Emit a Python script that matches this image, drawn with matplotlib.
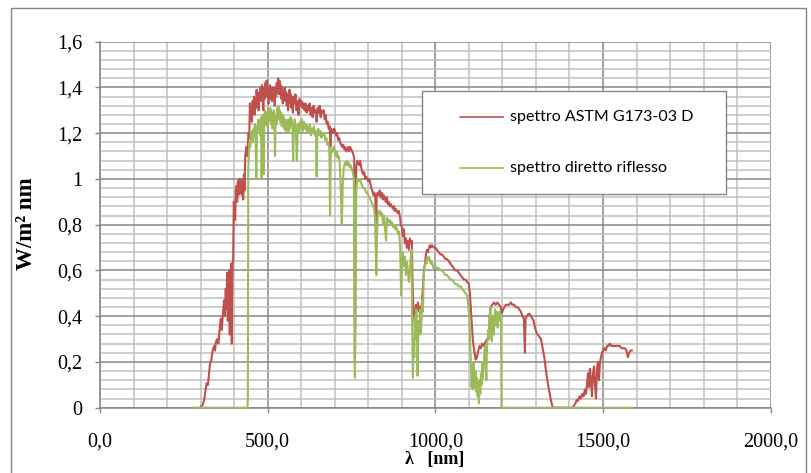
import matplotlib.pyplot as plt
import matplotlib as mat
import numpy as np

# spettro ASTM G173-03 D  (lambda in nm, W/m2 nm)
astm_nm = [298, 305, 310, 315, 318, 322, 325, 328, 332, 336, 340, 343, 346, 350, 353, 356,
           360, 363, 366, 370, 372, 375, 377, 379, 381, 383, 385, 387, 389, 391, 393, 395,
           397, 399, 401, 403, 405, 407, 409, 411, 413, 415, 417, 419, 421, 423, 425, 427,
           429, 431, 433, 435, 437, 439, 441, 443, 445, 447, 449, 451, 453, 455, 457, 459,
           461, 463, 465, 467, 469, 471, 473, 475, 477, 479, 481, 483, 485, 487, 489, 491,
           493, 495, 497, 499, 501, 503, 505, 507, 509, 511, 513, 515, 517, 519, 521, 523,
           525, 527, 529, 531, 533, 535, 537, 539, 541, 543, 545, 547, 549, 551, 553, 555,
           557, 559, 561, 563, 565, 567, 569, 571, 573, 575, 577, 580, 583, 586, 589, 592,
           595, 598, 601, 604, 607, 610, 613, 616, 619, 622, 625, 628, 631, 634, 637, 640,
           643, 646, 649, 652, 655, 658, 661, 664, 667, 670, 673, 676, 679, 682, 685, 687,
           689, 692, 695, 698, 701, 704, 707, 710, 713, 716, 719, 722, 725, 728, 731, 734,
           737, 740, 743, 746, 749, 752, 755, 758, 760, 762, 764, 767, 770, 773, 776, 779,
           782, 785, 788, 791, 794, 797, 800, 803, 806, 809, 812, 815, 818, 821, 823, 825,
           828, 831, 834, 837, 840, 843, 846, 849, 852, 855, 858, 861, 864, 867, 870, 873,
           876, 879, 882, 885, 888, 891, 894, 897, 900, 903, 906, 909, 912, 915, 918, 921,
           924, 927, 930, 932, 934, 936, 939, 942, 945, 948, 951, 954, 957, 960, 963, 966,
           969, 972, 975, 978, 981, 984, 987, 990, 995, 1000, 1005, 1010, 1015, 1020, 1025, 1030,
           1035, 1040, 1045, 1050, 1055, 1060, 1065, 1070, 1075, 1080, 1085, 1090, 1095, 1100, 1103, 1106,
           1109, 1112, 1116, 1120, 1124, 1128, 1132, 1136, 1140, 1145, 1150, 1155, 1160, 1162, 1165, 1170,
           1175, 1180, 1185, 1190, 1195, 1198, 1202, 1206, 1210, 1215, 1220, 1225, 1230, 1235, 1240, 1245,
           1250, 1255, 1260, 1264, 1267, 1269, 1273, 1277, 1281, 1285, 1289, 1293, 1297, 1301, 1305, 1310,
           1315, 1320, 1325, 1330, 1335, 1340, 1345, 1350, 1410, 1414, 1418, 1422, 1426, 1430, 1434, 1438,
           1442, 1446, 1449, 1452, 1455, 1458, 1461, 1464, 1467, 1470, 1473, 1476, 1479, 1482, 1485, 1488,
           1491, 1494, 1497, 1500, 1504, 1508, 1512, 1516, 1520, 1525, 1530, 1535, 1540, 1545, 1550, 1555,
           1560, 1565, 1570, 1574, 1578, 1582, 1586]
astm_val = [0.0, 0.01, 0.03, 0.08, 0.107, 0.10, 0.15, 0.19, 0.21, 0.25, 0.27, 0.25, 0.29, 0.30, 0.28, 0.33,
            0.39, 0.34, 0.40, 0.47, 0.40, 0.52, 0.43, 0.59, 0.38, 0.50, 0.60, 0.32, 0.55, 0.63, 0.28, 0.62,
            0.65, 0.90, 0.85, 0.82, 0.95, 0.97, 0.90, 0.99, 0.93, 1.00, 0.98, 0.94, 1.00, 0.93, 0.99, 0.91,
            1.02, 0.95, 1.10, 1.12, 1.14, 1.10, 1.16, 1.20, 1.18, 1.33, 1.29, 1.31, 1.25, 1.34, 1.30, 1.36,
            1.28, 1.35, 1.31, 1.39, 1.33, 1.37, 1.30, 1.38, 1.35, 1.40, 1.34, 1.41, 1.38, 1.30, 1.40, 1.35,
            1.42, 1.37, 1.43, 1.36, 1.40, 1.33, 1.38, 1.41, 1.35, 1.39, 1.34, 1.40, 1.36, 1.38, 1.32, 1.40,
            1.36, 1.42, 1.38, 1.44, 1.37, 1.43, 1.39, 1.41, 1.35, 1.40, 1.33, 1.38, 1.36, 1.40, 1.34, 1.38,
            1.32, 1.37, 1.30, 1.36, 1.39, 1.33, 1.37, 1.31, 1.35, 1.29, 1.36, 1.33, 1.37, 1.30, 1.34, 1.28,
            1.35, 1.32, 1.34, 1.31, 1.33, 1.30, 1.33, 1.29, 1.32, 1.30, 1.33, 1.28, 1.31, 1.27, 1.32, 1.29,
            1.30, 1.25, 1.31, 1.29, 1.32, 1.27, 1.30, 1.29, 1.30, 1.26, 1.28, 1.24, 1.25, 1.22, 1.23, 1.14,
            1.22, 1.21, 1.20, 1.22, 1.21, 1.19, 1.20, 1.17, 1.18, 1.16, 1.15, 1.14, 1.15, 1.13, 1.14, 1.12,
            1.13, 1.14, 1.12, 1.14, 1.13, 1.12, 1.11, 1.09, 0.20, 0.60, 1.05, 1.08, 1.07, 1.06, 1.08, 1.05,
            1.03, 1.02, 1.03, 1.00, 1.01, 1.00, 0.99, 1.00, 0.98, 0.96, 0.95, 0.93, 0.94, 0.92, 0.70, 0.93,
            0.94, 0.93, 0.95, 0.92, 0.94, 0.91, 0.93, 0.92, 0.90, 0.92, 0.89, 0.90, 0.88, 0.89, 0.88, 0.87,
            0.88, 0.86, 0.87, 0.86, 0.85, 0.86, 0.84, 0.80, 0.79, 0.75, 0.78, 0.72, 0.74, 0.70, 0.73, 0.69,
            0.74, 0.72, 0.73, 0.55, 0.44, 0.40, 0.37, 0.45, 0.43, 0.46, 0.42, 0.44, 0.43, 0.46, 0.53, 0.60,
            0.63, 0.67, 0.69, 0.68, 0.70, 0.71, 0.70, 0.71, 0.70, 0.70, 0.69, 0.68, 0.67, 0.67, 0.66, 0.65,
            0.65, 0.64, 0.63, 0.62, 0.61, 0.60, 0.60, 0.59, 0.58, 0.57, 0.56, 0.56, 0.55, 0.54, 0.50, 0.43,
            0.36, 0.29, 0.25, 0.21, 0.22, 0.25, 0.27, 0.26, 0.28, 0.27, 0.29, 0.30, 0.31, 0.40, 0.44, 0.45,
            0.46, 0.45, 0.46, 0.45, 0.44, 0.41, 0.43, 0.44, 0.45, 0.45, 0.45, 0.46, 0.45, 0.45, 0.44, 0.44,
            0.43, 0.42, 0.40, 0.39, 0.24, 0.39, 0.40, 0.41, 0.41, 0.40, 0.39, 0.38, 0.35, 0.33, 0.32, 0.31,
            0.30, 0.26, 0.22, 0.16, 0.11, 0.07, 0.03, 0.0, 0.0, 0.01, 0.02, 0.035, 0.03, 0.05, 0.04, 0.06,
            0.05, 0.08, 0.06, 0.10, 0.15, 0.09, 0.17, 0.12, 0.05, 0.15, 0.18, 0.10, 0.04, 0.17, 0.20, 0.12,
            0.20, 0.22, 0.24, 0.25, 0.26, 0.25, 0.27, 0.27, 0.28, 0.27, 0.27, 0.27, 0.27, 0.27, 0.27, 0.26,
            0.26, 0.26, 0.25, 0.22, 0.24, 0.25, 0.25]

# spettro diretto riflesso
rifl_nm = [281, 440, 441, 442, 444, 446, 448, 450, 452, 454, 456, 458, 460, 462, 464, 466,
           468, 470, 472, 474, 476, 478, 480, 482, 484, 486, 488, 490, 492, 494, 496, 498,
           500, 502, 504, 506, 508, 510, 512, 514, 516, 518, 520, 522, 524, 526, 528, 530,
           532, 534, 536, 538, 540, 542, 544, 546, 548, 550, 552, 554, 556, 558, 560, 562,
           564, 566, 568, 570, 572, 574, 576, 578, 581, 584, 587, 590, 593, 596, 599, 602,
           605, 608, 611, 614, 617, 620, 623, 626, 629, 632, 635, 638, 641, 644, 646, 648,
           651, 654, 657, 660, 663, 666, 669, 672, 675, 678, 681, 684, 686, 688, 691, 694,
           697, 700, 703, 706, 709, 712, 715, 718, 721, 724, 727, 730, 733, 736, 739, 742,
           745, 748, 751, 754, 757, 759, 760, 762, 764, 767, 770, 773, 776, 779, 782, 785,
           788, 791, 794, 797, 800, 803, 806, 809, 812, 815, 818, 821, 824, 826, 829, 832,
           835, 838, 841, 844, 847, 850, 853, 856, 859, 862, 865, 868, 871, 874, 877, 880,
           883, 886, 889, 892, 895, 898, 900, 903, 906, 909, 912, 915, 918, 921, 924, 927,
           929, 931, 933, 935, 937, 939, 941, 943, 945, 947, 949, 951, 953, 955, 957, 959,
           961, 963, 965, 968, 971, 974, 977, 980, 983, 986, 989, 992, 995, 1000, 1005, 1010,
           1015, 1020, 1025, 1030, 1035, 1040, 1045, 1050, 1055, 1060, 1065, 1070, 1075, 1080, 1085, 1090,
           1095, 1098, 1101, 1104, 1106, 1108, 1110, 1112, 1114, 1116, 1118, 1120, 1122, 1124, 1126, 1128,
           1130, 1132, 1134, 1136, 1138, 1140, 1142, 1144, 1146, 1148, 1150, 1152, 1154, 1156, 1158, 1160,
           1162, 1164, 1166, 1168, 1170, 1172, 1174, 1176, 1178, 1180, 1182, 1184, 1186, 1188, 1190, 1192,
           1194, 1196, 1197, 1586]
rifl_val = [0.0, 0.0, 0.05, 1.05, 1.12, 1.16, 1.14, 1.20, 1.18, 1.21, 1.16, 1.22, 1.19, 1.24, 1.20, 1.00,
            1.23, 1.21, 1.26, 1.22, 1.25, 1.19, 1.27, 1.00, 1.24, 1.28, 1.02, 1.26, 1.30, 1.24, 1.29, 1.23,
            1.28, 1.25, 1.30, 1.26, 1.31, 1.24, 1.29, 1.22, 1.27, 1.30, 1.25, 1.10, 1.28, 1.24, 1.31, 1.26,
            1.32, 1.27, 1.30, 1.25, 1.29, 1.23, 1.28, 1.24, 1.27, 1.22, 1.26, 1.21, 1.25, 1.23, 1.26, 1.20,
            1.25, 1.22, 1.27, 1.24, 1.26, 1.22, 1.08, 1.23, 1.26, 1.21, 1.08, 1.24, 1.20, 1.25, 1.22, 1.26,
            1.21, 1.25, 1.22, 1.24, 1.20, 1.23, 1.21, 1.24, 1.19, 1.22, 1.20, 1.23, 1.19, 1.21, 1.01, 1.20,
            1.22, 1.19, 1.21, 1.18, 1.20, 1.19, 1.20, 1.17, 1.18, 1.15, 1.16, 1.13, 0.84, 1.10, 1.13, 1.12,
            1.14, 1.12, 1.10, 1.12, 1.09, 1.10, 1.07, 0.95, 0.80, 0.98, 1.05, 1.07, 1.06, 1.08, 1.06, 1.07,
            1.05, 1.06, 1.04, 1.03, 1.00, 0.60, 0.13, 0.40, 0.95, 1.00, 1.00, 0.99, 1.00, 0.98, 0.97, 0.96,
            0.96, 0.95, 0.94, 0.94, 0.93, 0.92, 0.91, 0.90, 0.89, 0.88, 0.87, 0.80, 0.58, 0.75, 0.86, 0.85,
            0.86, 0.84, 0.85, 0.80, 0.84, 0.78, 0.73, 0.83, 0.82, 0.81, 0.82, 0.80, 0.81, 0.79, 0.80, 0.78,
            0.79, 0.78, 0.76, 0.77, 0.70, 0.49, 0.60, 0.68, 0.62, 0.66, 0.58, 0.64, 0.60, 0.55, 0.60, 0.66,
            0.69, 0.35, 0.13, 0.30, 0.22, 0.40, 0.30, 0.43, 0.35, 0.14, 0.33, 0.38, 0.32, 0.43, 0.33, 0.40,
            0.47, 0.42, 0.56, 0.62, 0.64, 0.63, 0.65, 0.66, 0.65, 0.63, 0.64, 0.62, 0.61, 0.62, 0.61, 0.61,
            0.60, 0.60, 0.59, 0.58, 0.58, 0.57, 0.56, 0.56, 0.55, 0.54, 0.54, 0.53, 0.53, 0.52, 0.51, 0.50,
            0.49, 0.45, 0.40, 0.27, 0.20, 0.09, 0.15, 0.08, 0.20, 0.12, 0.09, 0.16, 0.07, 0.13, 0.05, 0.10,
            0.02, 0.12, 0.06, 0.15, 0.10, 0.20, 0.13, 0.18, 0.24, 0.27, 0.22, 0.12, 0.26, 0.30, 0.34, 0.30,
            0.40, 0.44, 0.38, 0.29, 0.34, 0.40, 0.32, 0.38, 0.43, 0.36, 0.40, 0.42, 0.35, 0.41, 0.38, 0.42,
            0.40, 0.41, 0.0, 0.0]

x_ticks = [0, 500, 1000, 1500, 2000]
x_labels = ['0,0', '500,0', '1000,0', '1500,0', '2000,0']
y_ticks = [0, 0.2, 0.4, 0.6, 0.8, 1.0, 1.2, 1.4, 1.6]
y_labels = ['0', '0,2', '0,4', '0,6', '0,8', '1', '1,2', '1,4', '1,6']

c_red = '#C0504D'
c_green = '#9BBB59'
c_major = '#868686'
c_minor = '#C0C0C0'
serif = 'Liberation Serif'

W, H = 811, 473
fig = plt.figure(figsize=(W / 100, H / 100), dpi=100)
ax = fig.add_axes([100 / W, 1 - 407.7 / H, 670.7 / W, 366 / H])

ax.plot(astm_nm, astm_val, color=c_red, lw=1.5, zorder=3)
ax.plot(rifl_nm, rifl_val, color=c_green, lw=1.5, zorder=4)

ax.set_xlim(0, 2000)
ax.set_ylim(0, 1.6)
ax.set_xticks(x_ticks)
ax.set_xticklabels(x_labels, family=serif, fontsize=14.5)
ax.set_yticks(y_ticks)
ax.set_yticklabels(y_labels, family=serif, fontsize=14.5)
ax.set_xticks(np.arange(0, 2001, 100), minor=True)
ax.set_yticks(np.arange(0, 1.601, 0.04), minor=True)

# griglia principale e secondaria
ax.grid(which='minor', color=c_minor, lw=1.1, zorder=0)
ax.grid(which='major', color=c_major, lw=1.1, zorder=1)
ax.set_axisbelow(True)
ax.tick_params(which='minor', length=0)
ax.tick_params(which='major', direction='out', length=3.8, width=1.0, color=c_major)
ax.tick_params(axis='x', pad=14)
ax.tick_params(axis='y', pad=9)
for s in ['top', 'right']:
    ax.spines[s].set_visible(False)
for s in ['left', 'bottom']:
    ax.spines[s].set_color(c_major)
    ax.spines[s].set_linewidth(1.1)

fig.text(27 / W, 1 - 224 / H, 'W/m² nm', rotation=90, ha='center', va='center',
         family=serif, fontweight='bold', fontsize=16.5)
fig.text(435 / W, 1 - 459 / H, 'λ   [nm]', ha='center', va='center',
         family=serif, fontweight='bold', fontsize=13)

# legenda disegnata a mano
leg_box = mat.patches.Rectangle((422 / W, 1 - 194 / H), 304 / W, 103 / H, transform=fig.transFigure,
                                facecolor='white', edgecolor=c_major, lw=1.0, zorder=5)
fig.patches.append(leg_box)
for yy, col, txt in [(116.7, c_red, 'spettro ASTM G173-03 D'), (168.3, c_green, 'spettro diretto riflesso')]:
    fig.add_artist(mat.lines.Line2D([460 / W, 503 / W], [1 - yy / H, 1 - yy / H], color=col, lw=1.2,
                                    transform=fig.transFigure, zorder=6))
    fig.text(510 / W, 1 - yy / H, txt, ha='left', va='center', family='Lato', fontsize=11.5, zorder=6)

# cornice esterna del grafico
border = mat.patches.Rectangle((11 / W, -0.05), 795 / W, 1.05 - 8 / H, transform=fig.transFigure,
                               fill=False, edgecolor=c_major, lw=1.0)
fig.patches.append(border)

fig.savefig('out.png', dpi=100)
